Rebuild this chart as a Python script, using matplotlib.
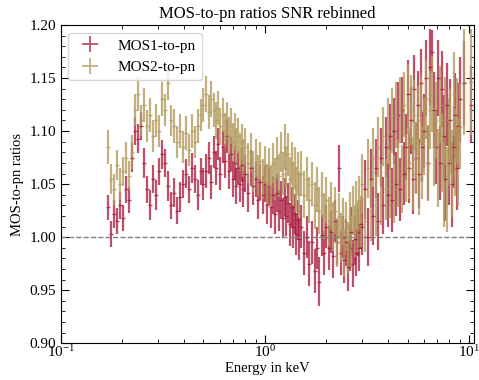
import matplotlib
matplotlib.use("Agg")
import matplotlib.pyplot as plt
from matplotlib.lines import Line2D
from matplotlib.ticker import MultipleLocator, FormatStrFormatter

plt.rcParams['font.family'] = ['Liberation Serif', 'DejaVu Serif']
plt.rcParams['mathtext.fontset'] = 'stix'

# energy bins (keV), shared by both ratio series
energy = [0.170, 0.176, 0.182, 0.188, 0.195, 0.202, 0.209, 0.216, 0.224, 0.231,
          0.239, 0.247, 0.256, 0.265, 0.274, 0.283, 0.293, 0.303, 0.314, 0.325,
          0.336, 0.347, 0.359, 0.372, 0.385, 0.398, 0.412, 0.426, 0.441, 0.456,
          0.472, 0.488,
          0.500, 0.515, 0.530, 0.545, 0.560, 0.575, 0.590, 0.605, 0.620, 0.635,
          0.650, 0.665, 0.680, 0.695, 0.710, 0.725, 0.740, 0.755, 0.770, 0.785,
          0.800, 0.825, 0.850, 0.875, 0.900, 0.925, 0.950, 0.975, 1.000, 1.025,
          1.050, 1.075, 1.100, 1.125, 1.150, 1.175, 1.200, 1.225, 1.250, 1.275,
          1.300, 1.325, 1.350, 1.375, 1.400, 1.425, 1.450, 1.475,
          1.50, 1.55, 1.60, 1.65, 1.70, 1.75, 1.80, 1.85, 1.90, 1.95,
          2.00, 2.05, 2.10, 2.15, 2.20, 2.25, 2.30, 2.35, 2.40, 2.45,
          2.50, 2.55, 2.60, 2.65, 2.70, 2.75, 2.80, 2.85, 2.90, 2.95,
          3.0, 3.1, 3.2, 3.3, 3.4, 3.5, 3.6, 3.7, 3.8, 3.9,
          4.0, 4.1, 4.2, 4.3, 4.4, 4.5, 4.6, 4.7, 4.8, 4.9,
          5.0, 5.1, 5.2, 5.3, 5.4, 5.5, 5.6, 5.7, 5.8, 5.9,
          6.00, 6.15, 6.30, 6.45, 6.60, 6.75, 6.90, 7.05, 7.20, 7.35,
          7.50, 7.65, 7.80, 7.95, 8.10, 8.25, 8.40, 8.55, 8.70, 8.85,
          9.05, 9.5, 10.2]

mos1 = [1.028, 1.003, 1.022, 1.015, 1.030, 1.018, 1.045, 1.035, 1.075, 1.100,
        1.093, 1.105, 1.070, 1.045, 1.030, 1.055, 1.040, 1.062, 1.078, 1.070,
        1.048, 1.030, 1.042, 1.025, 1.038, 1.050, 1.060, 1.045, 1.065, 1.055,
        1.040, 1.062,
        1.050, 1.062, 1.075, 1.052, 1.080, 1.065, 1.088, 1.060, 1.085, 1.072,
        1.095, 1.062, 1.078, 1.055, 1.070, 1.048, 1.065, 1.050, 1.068, 1.045,
        1.060, 1.042, 1.065, 1.048, 1.055, 1.035, 1.052, 1.040, 1.050, 1.030,
        1.048, 1.028, 1.040, 1.022, 1.042, 1.025, 1.035, 1.018, 1.038, 1.020,
        1.032, 1.012, 1.028, 1.010, 1.022, 1.003, 1.016, 0.998,
        1.010, 0.985, 1.000, 0.975, 0.995, 0.968, 0.990, 0.958, 1.002, 0.985,
        1.010, 0.990, 1.005, 0.982, 1.015, 0.995, 1.065, 0.985, 1.000, 0.978,
        0.995, 0.972, 0.990, 1.005, 0.975, 0.998, 0.985, 1.005, 0.990, 1.012,
        1.010, 1.045, 1.000, 1.055, 1.020, 1.065, 1.015, 1.075, 1.030, 1.085,
        1.040, 1.095, 1.035, 1.100, 1.050, 1.115, 1.045, 1.120, 1.060, 1.085,
        1.135, 1.065, 1.110, 1.055, 1.140, 1.075, 1.125, 1.060, 1.145, 1.085,
        1.100, 1.150, 1.070, 1.160, 1.175, 1.120, 1.085, 1.150, 1.070, 1.140,
        1.095, 1.055, 1.125, 1.070, 1.110, 1.050, 1.085, 1.115, 1.065, 1.105,
        1.130, 1.145, 1.125]

mos1_err = [0.012, 0.012, 0.013, 0.012, 0.013, 0.012, 0.013, 0.012, 0.014, 0.013,
            0.014, 0.013, 0.014, 0.013, 0.014, 0.013, 0.014, 0.013, 0.014, 0.013,
            0.014, 0.013, 0.014, 0.013, 0.014, 0.013, 0.014, 0.013, 0.014, 0.013,
            0.014, 0.013,
            0.015, 0.016, 0.015, 0.016, 0.015, 0.016, 0.015, 0.016, 0.015, 0.016,
            0.016, 0.017, 0.016, 0.017, 0.016, 0.017, 0.016, 0.017, 0.016, 0.017,
            0.017, 0.018, 0.017, 0.018, 0.017, 0.018, 0.017, 0.018, 0.017, 0.018,
            0.018, 0.019, 0.018, 0.019, 0.018, 0.019, 0.018, 0.019, 0.018, 0.019,
            0.019, 0.020, 0.019, 0.020, 0.019, 0.020, 0.019, 0.020,
            0.020, 0.021, 0.020, 0.021, 0.020, 0.021, 0.020, 0.023, 0.020, 0.021,
            0.020, 0.021, 0.020, 0.021, 0.020, 0.021, 0.022, 0.021, 0.020, 0.021,
            0.022, 0.023, 0.022, 0.023, 0.022, 0.023, 0.022, 0.023, 0.022, 0.023,
            0.027, 0.028, 0.027, 0.028, 0.027, 0.028, 0.027, 0.028, 0.027, 0.028,
            0.030, 0.031, 0.030, 0.031, 0.030, 0.031, 0.030, 0.031, 0.030, 0.031,
            0.032, 0.033, 0.032, 0.033, 0.032, 0.033, 0.032, 0.033, 0.032, 0.033,
            0.035, 0.036, 0.035, 0.036, 0.020, 0.036, 0.035, 0.036, 0.035, 0.036,
            0.039, 0.040, 0.039, 0.040, 0.039, 0.040, 0.039, 0.040, 0.039, 0.040,
            0.040, 0.040, 0.036]

mos2 = [1.085, 1.055, 1.045, 1.068, 1.050, 1.062, 1.075, 1.058, 1.080, 1.120,
        1.135, 1.110, 1.125, 1.105, 1.115, 1.095, 1.110, 1.100, 1.130, 1.120,
        1.145, 1.110, 1.105, 1.090, 1.100, 1.085, 1.098, 1.082, 1.100, 1.090,
        1.105, 1.115,
        1.125, 1.135, 1.118, 1.130, 1.120, 1.110, 1.122, 1.105, 1.115, 1.100,
        1.110, 1.095, 1.105, 1.090, 1.100, 1.085, 1.095, 1.080, 1.090, 1.075,
        1.085, 1.070, 1.080, 1.062, 1.075, 1.058, 1.072, 1.055, 1.068, 1.050,
        1.065, 1.048, 1.070, 1.055, 1.075, 1.058, 1.080, 1.060, 1.085, 1.065,
        1.078, 1.055, 1.070, 1.050, 1.065, 1.045, 1.060, 1.040,
        1.060, 1.040, 1.055, 1.035, 1.050, 1.030, 1.045, 1.025, 1.040, 1.020,
        1.035, 1.015, 1.030, 1.010, 1.025, 0.995, 1.020, 1.000, 1.015, 0.985,
        1.010, 0.990, 1.020, 0.995, 1.025, 1.005, 1.030, 1.010, 1.035, 1.015,
        1.050, 1.015, 1.065, 1.025, 1.075, 1.030, 1.085, 1.040, 1.095, 1.045,
        1.100, 1.050, 1.110, 1.045, 1.115, 1.060, 1.120, 1.055, 1.125, 1.065,
        1.130, 1.070, 1.120, 1.060, 1.115, 1.075, 1.110, 1.055, 1.120, 1.070,
        1.095, 1.130, 1.070, 1.120, 1.135, 1.085, 1.110, 1.065, 1.125, 1.080,
        1.050, 1.110, 1.045, 1.090, 1.100, 1.060, 1.135, 1.080, 1.110, 1.070,
        1.104, 1.146, 1.146]

mos2_err = [0.016, 0.014, 0.015, 0.014, 0.015, 0.014, 0.015, 0.014, 0.016, 0.015,
            0.016, 0.015, 0.016, 0.015, 0.016, 0.015, 0.016, 0.015, 0.016, 0.015,
            0.016, 0.015, 0.016, 0.015, 0.016, 0.015, 0.016, 0.015, 0.016, 0.015,
            0.016, 0.015,
            0.016, 0.017, 0.016, 0.017, 0.016, 0.017, 0.016, 0.017, 0.016, 0.017,
            0.017, 0.018, 0.017, 0.018, 0.017, 0.018, 0.017, 0.018, 0.017, 0.018,
            0.018, 0.019, 0.018, 0.019, 0.018, 0.019, 0.018, 0.019, 0.018, 0.019,
            0.019, 0.020, 0.019, 0.020, 0.019, 0.020, 0.019, 0.020, 0.022, 0.020,
            0.020, 0.021, 0.020, 0.021, 0.020, 0.021, 0.020, 0.021,
            0.021, 0.022, 0.021, 0.022, 0.021, 0.022, 0.021, 0.022, 0.021, 0.022,
            0.022, 0.023, 0.022, 0.023, 0.022, 0.023, 0.022, 0.023, 0.022, 0.023,
            0.023, 0.024, 0.023, 0.024, 0.023, 0.024, 0.023, 0.024, 0.023, 0.024,
            0.028, 0.029, 0.028, 0.029, 0.028, 0.029, 0.028, 0.029, 0.028, 0.029,
            0.031, 0.032, 0.031, 0.032, 0.031, 0.032, 0.031, 0.032, 0.031, 0.032,
            0.033, 0.034, 0.033, 0.034, 0.033, 0.034, 0.033, 0.034, 0.033, 0.034,
            0.036, 0.037, 0.036, 0.037, 0.036, 0.037, 0.036, 0.037, 0.036, 0.037,
            0.040, 0.041, 0.040, 0.041, 0.040, 0.041, 0.040, 0.041, 0.040, 0.041,
            0.040, 0.050, 0.050]

c1 = '#a8163a'
c2 = '#b39c62'

fig = plt.figure(figsize=(4.79, 3.80), dpi=100)
ax = fig.add_axes([0.127, 0.097, 0.863, 0.837])

ax.errorbar(energy, mos1, yerr=mos1_err, fmt='_', ms=3, color=c1,
            elinewidth=1.6, alpha=0.75, lw=0)
ax.errorbar(energy, mos2, yerr=mos2_err, fmt='_', ms=3, color=c2,
            elinewidth=1.6, alpha=0.8, lw=0)
ax.axhline(1.0, color='grey', ls='--', lw=1)

ax.set_xscale('log')
ax.set_xlim(0.1, 10.6)
ax.set_ylim(0.90, 1.20)
ax.yaxis.set_major_locator(MultipleLocator(0.05))
ax.yaxis.set_minor_locator(MultipleLocator(0.01))
ax.yaxis.set_major_formatter(FormatStrFormatter('%.2f'))
ax.tick_params(which='both', direction='in', top=True, right=True, labelsize=11)
ax.tick_params(axis='x', which='both', pad=1)
ax.tick_params(which='major', length=6)
ax.tick_params(which='minor', length=3)

ax.set_xlabel('Energy in keV', fontsize=10.5, labelpad=1)
ax.set_ylabel('MOS-to-pn ratios', fontsize=10.5)
ax.set_title('MOS-to-pn ratios SNR rebinned', fontsize=12, pad=5)

handles = [Line2D([], [], color=c1, marker='+', ms=11, mew=1.3, lw=0, alpha=0.75),
           Line2D([], [], color=c2, marker='+', ms=11, mew=1.3, lw=0, alpha=0.8)]
ax.legend(handles, ['MOS1-to-pn', 'MOS2-to-pn'], loc='upper left', fontsize=11)

fig.savefig('out.png', dpi=100)
